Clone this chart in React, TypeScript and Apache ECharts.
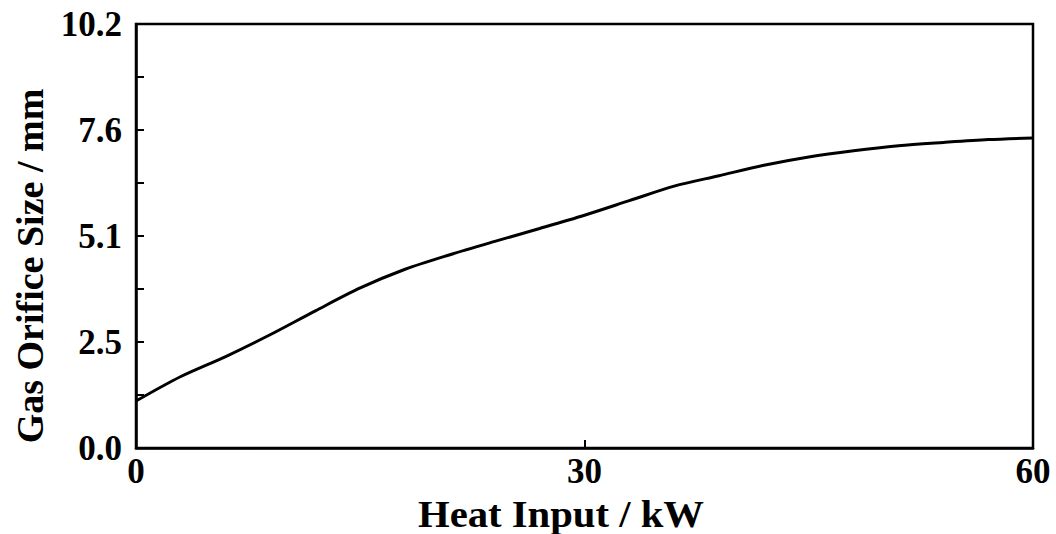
import React, { useEffect, useRef } from "react";
import * as echarts from "echarts";

const heatInput = [0, 3, 6, 9, 12, 15, 18, 21, 24, 27, 30, 33, 36, 39, 42, 45, 48, 51, 54, 57, 60];
const orificeSize = [1.13, 1.72, 2.2, 2.73, 3.3, 3.85, 4.3, 4.65, 4.97, 5.28, 5.6, 5.95, 6.3, 6.55, 6.8, 7.0, 7.15, 7.27, 7.35, 7.42, 7.46];
const yTickLabels = ["0.0", "2.5", "5.1", "7.6", "10.2"];
const xTickLabels = ["0", "30", "60"];
const yTitle = "Gas Orifice Size / mm";
const xTitle = "Heat Input / kW";

const FONT = "'Liberation Serif', 'Times New Roman', serif";

export default function App() {
  const ref = useRef<HTMLDivElement>(null);
  useEffect(() => {
    if (!ref.current) return;
    const chart = echarts.init(ref.current, null, { renderer: "svg" });
    const yMax = 10.2;
    const yStep = yMax / (yTickLabels.length - 1);
    const xMax = 60;
    const xStep = xMax / (xTickLabels.length - 1);
    chart.setOption({
      animation: false,
      backgroundColor: "#fff",
      grid: {
        left: 136,
        right: 23,
        top: 24,
        bottom: 86,
        show: true,
        borderColor: "#000",
        borderWidth: 2.5,
      },
      xAxis: {
        type: "value",
        min: 0,
        max: xMax,
        interval: xStep,
        axisLine: { lineStyle: { color: "#000", width: 2.5 } },
        axisTick: { inside: true, length: 8, lineStyle: { color: "#000", width: 2 } },
        splitLine: { show: false },
        axisLabel: {
          fontFamily: FONT,
          fontWeight: "bold",
          fontSize: 35,
          color: "#000",
          margin: 6,
          formatter: (v: number) => xTickLabels[Math.round(v / xStep)] ?? "",
        },
      },
      yAxis: {
        type: "value",
        min: 0,
        max: yMax,
        interval: yStep,
        axisLine: { show: true, lineStyle: { color: "#000", width: 2.5 } },
        axisTick: { show: true, inside: true, length: 8, lineStyle: { color: "#000", width: 2 } },
        minorTick: { show: true, splitNumber: 2, length: 8, lineStyle: { color: "#000", width: 2 } },
        splitLine: { show: false },
        axisLabel: {
          fontFamily: FONT,
          fontWeight: "bold",
          fontSize: 35,
          color: "#000",
          margin: 14,
          formatter: (v: number) => yTickLabels[Math.round(v / yStep)] ?? "",
        },
      },
      graphic: [
        {
          type: "text",
          x: 30,
          y: 266,
          rotation: Math.PI / 2,
          style: {
            text: yTitle,
            fontFamily: FONT,
            fontWeight: "bold",
            fontSize: 38,
            fill: "#000",
            align: "center",
            verticalAlign: "middle",
          },
        },
        {
          type: "text",
          x: 561,
          y: 514,
          scaleX: 1.1,
          style: {
            text: xTitle,
            fontFamily: FONT,
            fontWeight: "bold",
            fontSize: 37,
            fill: "#000",
            align: "center",
            verticalAlign: "middle",
          },
        },
      ],
      series: [
        {
          type: "line",
          data: heatInput.map((x, i) => [x, orificeSize[i]]),
          smooth: 0.3,
          showSymbol: false,
          lineStyle: { color: "#000", width: 3 },
        },
      ],
    });
    return () => chart.dispose();
  }, []);
  return (
    <div
      ref={ref}
      style={{ position: "absolute", left: 0, top: 0, width: 1056, height: 534 }}
    />
  );
}
